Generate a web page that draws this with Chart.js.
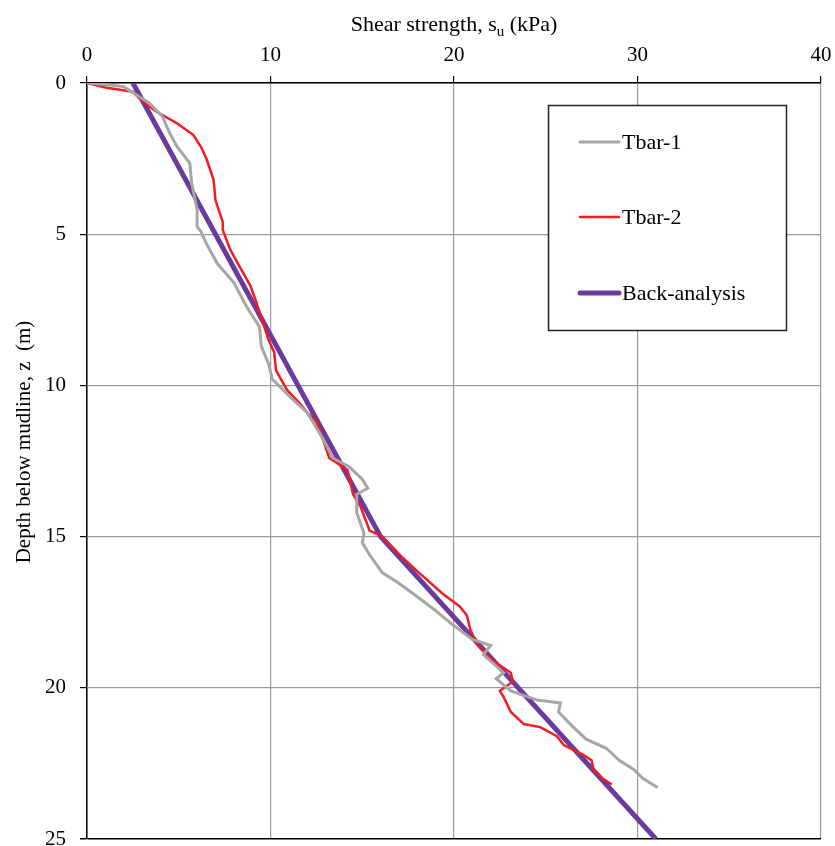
<!DOCTYPE html>
<html>
<head>
<meta charset="utf-8">
<script src="https://cdn.jsdelivr.net/npm/chart.js@4"></script>
<style>
  html, body { margin: 0; padding: 0; background: #fff; }
  #wrap { width: 835px; height: 846px; }
</style>
</head>
<body>
<div id="wrap"><canvas id="suChart" width="835" height="846"></canvas></div>
<script>
// Tbar-1 (grey): shear strength (kPa) vs depth (m)
const tbar1Su = [0, 1.0, 2.0, 2.7, 3.4, 4.1, 4.5, 4.9, 5.6, 5.7, 6.0, 6.0, 6.2, 6.5, 7.1, 8.0, 8.7, 9.4, 9.5, 9.9, 10.1, 11.1, 12.0, 12.5, 12.7, 13.4, 14.3, 15.0, 15.3, 14.7, 14.7, 15.1, 15.0, 15.4, 16.1, 16.9, 17.8, 18.9, 19.9, 21.0, 22.0, 21.6, 22.7, 22.3, 23.1, 24.5, 25.8, 25.7, 26.5, 27.2, 28.3, 29.0, 29.8, 30.3, 31.1];
const tbar1Z  = [0, 0.05, 0.12, 0.4, 0.67, 1.1, 1.65, 2.1, 2.65, 3.3, 4.2, 4.75, 4.9, 5.3, 5.97, 6.6, 7.4, 8.07, 8.7, 9.3, 9.8, 10.4, 10.9, 11.4, 11.6, 12.4, 12.7, 13.1, 13.4, 13.6, 14.2, 14.9, 15.2, 15.6, 16.2, 16.5, 16.9, 17.4, 17.9, 18.4, 18.6, 18.9, 19.5, 19.7, 20.1, 20.4, 20.5, 20.8, 21.3, 21.7, 22.0, 22.4, 22.7, 23.0, 23.3];

// Tbar-2 (red)
const tbar2Su = [0, 1.0, 2.5, 3.0, 3.8, 4.9, 5.8, 6.2, 6.5, 6.9, 7.0, 7.4, 7.4, 7.8, 8.2, 8.9, 9.2, 9.6, 9.9, 10.2, 10.3, 10.9, 11.6, 12.0, 12.5, 12.7, 13.2, 14.2, 14.5, 14.9, 15.4, 16.1, 17.2, 18.1, 19.4, 20.3, 20.7, 20.9, 21.3, 22.1, 23.1, 23.2, 22.5, 22.7, 23.1, 23.8, 24.7, 25.6, 26.0, 27.0, 27.5, 27.6, 28.1, 28.6];
const tbar2Z  = [0, 0.15, 0.29, 0.6, 0.95, 1.33, 1.72, 2.1, 2.49, 3.2, 3.87, 4.6, 4.86, 5.5, 5.95, 6.7, 7.2, 7.95, 8.5, 8.9, 9.5, 10.15, 10.6, 10.9, 11.2, 11.5, 12.4, 12.8, 13.6, 14.0, 14.8, 15.0, 15.7, 16.2, 16.9, 17.3, 17.6, 18.1, 18.6, 19.1, 19.5, 19.8, 20.1, 20.3, 20.8, 21.2, 21.3, 21.6, 21.9, 22.2, 22.4, 22.7, 23.0, 23.2];

// Back-analysis profile
const backSu = [2.5, 16, 31];
const backZ  = [0, 15, 25];

const xTicks = [0, 10, 20, 30, 40];
const yTicks = [0, 5, 10, 15, 20, 25];

const serif = "'Liberation Serif', 'Times New Roman', serif";

function toPoints(xs, ys) {
  return xs.map((x, i) => ({ x: x, y: ys[i] }));
}

// titles + legend box drawn by hand (subscript, legend inside plot)
const decorations = {
  id: "decorations",
  afterDraw(chart) {
    const c = chart.ctx;
    const area = chart.chartArea;
    c.save();
    c.fillStyle = "#000";

    // x title with subscript u
    const big = "22px " + serif, small = "15px " + serif;
    const p1 = "Shear strength, s", p2 = "u", p3 = " (kPa)";
    c.font = big;
    const w1 = c.measureText(p1).width, w3 = c.measureText(p3).width;
    c.font = small;
    const w2 = c.measureText(p2).width;
    let x = (area.left + area.right) / 2 - (w1 + w2 + w3) / 2;
    const base = 31;
    c.textBaseline = "alphabetic";
    c.textAlign = "left";
    c.font = big; c.fillText(p1, x, base); x += w1;
    c.font = small; c.fillText(p2, x, base + 5); x += w2;
    c.font = big; c.fillText(p3, x, base);

    // y title
    c.save();
    c.translate(24, 442);
    c.rotate(-Math.PI / 2);
    c.font = "21px " + serif;
    c.textAlign = "center";
    c.textBaseline = "middle";
    c.fillText("Depth below mudline, z  (m)", 0, 0);
    c.restore();

    // legend
    c.fillStyle = "#fff";
    c.fillRect(548, 105, 239, 225);
    c.strokeStyle = "#222";
    c.lineWidth = 1.5;
    c.strokeRect(548.5, 105.5, 238, 225);
    const rows = [142, 217, 293];
    chart.data.datasets.forEach((ds, i) => {
      c.strokeStyle = ds.borderColor;
      c.lineWidth = ds.borderWidth;
      c.lineCap = "round";
      c.beginPath();
      c.moveTo(580, rows[i]);
      c.lineTo(619, rows[i]);
      c.stroke();
      c.fillStyle = "#000";
      c.font = "22px " + serif;
      c.textAlign = "left";
      c.textBaseline = "middle";
      c.fillText(ds.label, 622, rows[i] + 1);
    });
    c.restore();
  }
};

new Chart(document.getElementById("suChart"), {
  type: "scatter",
  data: {
    datasets: [
      {
        label: "Tbar-1",
        data: toPoints(tbar1Su, tbar1Z),
        showLine: true,
        borderColor: "#a6a6a6",
        borderWidth: 3,
        pointRadius: 0,
        tension: 0
      },
      {
        label: "Tbar-2",
        data: toPoints(tbar2Su, tbar2Z),
        showLine: true,
        borderColor: "#f01c22",
        borderWidth: 2.5,
        pointRadius: 0,
        tension: 0
      },
      {
        label: "Back-analysis",
        data: toPoints(backSu, backZ),
        showLine: true,
        borderColor: "#6a3a9c",
        borderWidth: 5,
        pointRadius: 0,
        tension: 0
      }
    ]
  },
  options: {
    responsive: false,
    animation: false,
    layout: { padding: { left: 0, top: 0, right: 14, bottom: 7 } },
    plugins: {
      legend: { display: false },
      tooltip: { enabled: false }
    },
    scales: {
      x: {
        type: "linear",
        position: "top",
        min: 0,
        max: 40,
        afterFit: s => { s.height = 83; s.paddingLeft = 0; s.paddingRight = 0; },
        afterBuildTicks: s => { s.ticks = xTicks.map(v => ({ value: v })); },
        ticks: {
          color: "#000",
          padding: 8,
          font: { family: serif, size: 21 }
        },
        grid: {
          color: "#9a9a9a",
          lineWidth: 1.2,
          tickColor: "#000",
          tickLength: 7
        },
        border: { color: "#000", width: 1.5 }
      },
      y: {
        type: "linear",
        reverse: true,
        min: 0,
        max: 25,
        afterFit: s => { s.width = 87; s.paddingTop = 0; s.paddingBottom = 0; },
        afterBuildTicks: s => { s.ticks = yTicks.map(v => ({ value: v })); },
        ticks: {
          color: "#000",
          padding: 14,
          font: { family: serif, size: 21 }
        },
        grid: {
          color: ctx => ctx.tick && ctx.tick.value === 25 ? "#000" : "#9a9a9a",
          lineWidth: ctx => ctx.tick && ctx.tick.value === 25 ? 1.5 : 1.2,
          tickColor: "#000",
          tickLength: 7
        },
        border: { color: "#000", width: 1.5 }
      }
    }
  },
  plugins: [decorations]
});
</script>
</body>
</html>
